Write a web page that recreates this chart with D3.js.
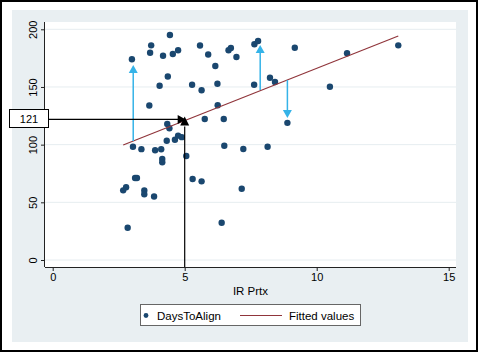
<!DOCTYPE html>
<html>
<head>
<meta charset="utf-8">
<script src="https://cdn.jsdelivr.net/npm/d3@7"></script>
<style>
  body { margin: 0; background: #fff; }
  text { font-family: "Liberation Sans", Arial, sans-serif; fill: #000; }
</style>
</head>
<body>
<div id="chart"></div>
<script>
//////////////////////////////////////////////////////////////////////////////
// Data

var irPrtx = [3.00, 4.44, 3.73, 3.69, 4.18, 4.55, 4.75, 5.58, 5.89, 6.66,
              6.75, 6.96, 6.16, 4.36, 4.05, 5.28, 5.64, 6.24, 3.66, 6.25,
              5.76, 6.48, 4.34, 4.42, 4.75, 4.89, 4.63, 4.32, 3.04, 3.36,
              3.88, 4.11, 4.15, 4.15, 5.06, 6.50, 7.22, 8.14, 7.63, 8.23,
              8.42, 7.64, 7.78, 9.17, 11.15, 13.09, 10.50, 8.89, 3.12, 3.19,
              2.78, 2.67, 3.47, 3.47, 3.84, 2.84, 5.30, 5.64, 6.40, 7.16];
var daysToAlign = [174.0, 195.1, 186.1, 179.7, 177.1, 178.6, 181.8, 186.0, 178.2, 181.8,
                   183.8, 176.0, 168.2, 159.1, 151.1, 151.9, 147.1, 152.8, 133.9, 134.1,
                   122.3, 122.3, 117.9, 114.2, 107.8, 106.5, 104.3, 103.4, 98.2, 96.1,
                   95.2, 96.0, 87.6, 84.7, 90.2, 99.1, 96.2, 98.2, 151.9, 158.0,
                   154.3, 187.1, 189.9, 184.0, 179.2, 186.1, 150.2, 118.9, 71.1, 71.1,
                   63.1, 60.4, 60.3, 57.0, 55.1, 28.0, 70.2, 68.2, 32.3, 61.8];

// fitted values line (two end points)
var fitX = [2.67, 13.09];
var fitY = [99.7, 194.2];

// residual arrows: x, start y (on the fit), end y (tip)
var residX = [3.05, 7.86, 8.89];
var residFrom = [103.1, 147.4, 156.0];
var residTo = [169.0, 186.4, 123.1];

// prediction read-off
var predX = 5;
var predY = 121;

var xTicks = [0, 5, 10, 15];
var yTicks = [0, 50, 100, 150, 200];
var legendLabels = ["DaysToAlign", "Fitted values"];

//////////////////////////////////////////////////////////////////////////////

var width = 478, height = 352;
var plotLeft = 45, plotRight = 456, plotTop = 22, plotBottom = 267;

var xScale = d3.scaleLinear().domain([0, 15]).range([52.7, 448.7]);
var yScale = d3.scaleLinear().domain([0, 200]).range([260, 29.3]);

var navy = "#1a476f", maroon = "#90353b", cyan = "#35b3e8";

var svg = d3.select("#chart")
    .append("svg")
    .attr("width", width)
    .attr("height", height);

// outer frame + graph region
svg.append("rect")
    .attr("x", 1).attr("y", 1)
    .attr("width", width - 2).attr("height", height - 2)
    .attr("fill", "#fff")
    .attr("stroke", "#000")
    .attr("stroke-width", 2);

svg.append("rect")
    .attr("x", 12).attr("y", 10)
    .attr("width", 456).attr("height", 332)
    .attr("fill", "#e9eff2");

svg.append("rect")
    .attr("x", plotLeft).attr("y", plotTop)
    .attr("width", plotRight - plotLeft).attr("height", plotBottom - plotTop)
    .attr("fill", "#fff");

// grid lines
svg.append("g")
    .selectAll("line")
    .data(yTicks)
    .enter()
    .append("line")
    .attr("x1", plotLeft).attr("x2", plotRight)
    .attr("y1", function(d) { return yScale(d); })
    .attr("y2", function(d) { return yScale(d); })
    .attr("stroke", "#e6edf0")
    .attr("stroke-width", 1);

// axes
var xAxis = d3.axisBottom(xScale).tickValues(xTicks).tickSize(4).tickPadding(2);
var gx = svg.append("g")
    .attr("transform", "translate(0," + plotBottom + ")")
    .call(xAxis);
gx.select(".domain").attr("d", "M" + plotLeft + ",0.5H" + plotRight).attr("stroke", "#222");
gx.selectAll(".tick line").attr("stroke", "#222");
gx.selectAll(".tick text")
    .attr("font-size", 11)
    .attr("font-family", "Liberation Sans, Arial, sans-serif");

var yAxis = d3.axisLeft(yScale).tickValues(yTicks).tickSize(4).tickFormat(d3.format("d"));
var gy = svg.append("g")
    .attr("transform", "translate(" + plotLeft + ",0)")
    .call(yAxis);
gy.select(".domain").attr("d", "M-0.5," + plotTop + "V" + plotBottom).attr("stroke", "#222");
gy.selectAll(".tick line").attr("stroke", "#222");
gy.selectAll(".tick text")
    .attr("font-size", 11)
    .attr("font-family", "Liberation Sans, Arial, sans-serif")
    .attr("text-anchor", "middle")
    .attr("x", 0).attr("dy", 0)
    .attr("transform", "translate(-8.3,0) rotate(-90)");

svg.append("text")
    .attr("x", (plotLeft + plotRight) / 2)
    .attr("y", 295)
    .attr("text-anchor", "middle")
    .attr("font-size", 11.5)
    .text("IR Prtx");

// scatter
svg.append("g")
    .selectAll("circle")
    .data(irPrtx)
    .enter()
    .append("circle")
    .attr("cx", function(d) { return xScale(d); })
    .attr("cy", function(d, i) { return yScale(daysToAlign[i]); })
    .attr("r", 3.2)
    .attr("fill", navy);

// fitted line
svg.append("line")
    .attr("x1", xScale(fitX[0])).attr("y1", yScale(fitY[0]))
    .attr("x2", xScale(fitX[1])).attr("y2", yScale(fitY[1]))
    .attr("stroke", maroon)
    .attr("stroke-width", 1.2);

// arrowhead helper: tip at (x,y), pointing dir ("up","down","right")
function arrowHead(g, x, y, dir, color, w, h) {
    var p;
    if (dir == "up") p = [[x, y], [x - w / 2, y + h], [x + w / 2, y + h]];
    else if (dir == "down") p = [[x, y], [x - w / 2, y - h], [x + w / 2, y - h]];
    else p = [[x, y], [x - h, y - w / 2], [x - h, y + w / 2]];
    g.append("path")
        .attr("d", d3.line()(p) + "Z")
        .attr("fill", color);
}

// residual arrows
var ra = svg.append("g");
residX.forEach(function(x, i) {
    var px = xScale(x), y0 = yScale(residFrom[i]), y1 = yScale(residTo[i]);
    var up = y1 < y0;
    ra.append("line")
        .attr("x1", px).attr("x2", px)
        .attr("y1", y0).attr("y2", up ? y1 + 6 : y1 - 6)
        .attr("stroke", cyan)
        .attr("stroke-width", 1.5);
    arrowHead(ra, px, y1, up ? "up" : "down", cyan, 9, 8);
});

// prediction arrows
var pa = svg.append("g");
pa.append("line")
    .attr("x1", xScale(predX)).attr("x2", xScale(predX))
    .attr("y1", plotBottom).attr("y2", yScale(predY) + 6)
    .attr("stroke", "#000").attr("stroke-width", 1.2);
pa.append("line")
    .attr("x1", 49).attr("x2", xScale(predX) - 4)
    .attr("y1", yScale(predY) - 1).attr("y2", yScale(predY) - 1)
    .attr("stroke", "#000").attr("stroke-width", 1.2);
arrowHead(pa, xScale(predX) + 1, yScale(predY) - 1, "right", "#000", 9, 8);
arrowHead(pa, xScale(predX), yScale(predY) - 4, "up", "#000", 9, 9);

pa.append("rect")
    .attr("x", 9.5).attr("y", 109.5)
    .attr("width", 39).attr("height", 18)
    .attr("fill", "#fff")
    .attr("stroke", "#000");
pa.append("text")
    .attr("x", 29).attr("y", 123)
    .attr("text-anchor", "middle")
    .attr("font-size", 11)
    .text(predY);

// legend
var lg = svg.append("g");
lg.append("rect")
    .attr("x", 140.5).attr("y", 304.5)
    .attr("width", 220).attr("height", 21)
    .attr("fill", "#fff")
    .attr("stroke", "#666");
lg.append("circle")
    .attr("cx", 146).attr("cy", 315.5)
    .attr("r", 2.4)
    .attr("fill", navy);
lg.append("text")
    .attr("x", 157).attr("y", 319.5)
    .attr("font-size", 11.5)
    .text(legendLabels[0]);
lg.append("line")
    .attr("x1", 240).attr("x2", 282)
    .attr("y1", 315.5).attr("y2", 315.5)
    .attr("stroke", maroon)
    .attr("stroke-width", 1.2);
lg.append("text")
    .attr("x", 289).attr("y", 319.5)
    .attr("font-size", 11.5)
    .text(legendLabels[1]);
</script>
</body>
</html>
